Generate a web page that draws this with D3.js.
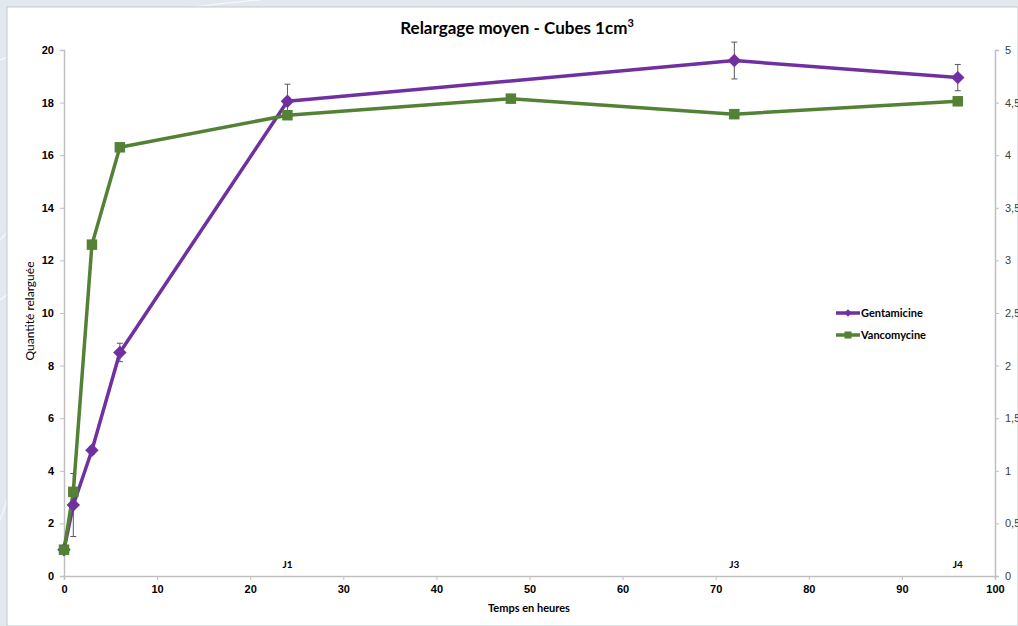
<html>
<head>
  <style>
    body { margin: 0; background: #e3e8ef; font-family: Lato, "Open Sans", sans-serif; }
    svg { display: block; }
    .tick text { font-size: 11px; font-weight: bold; fill: #000; }
    .right .tick text { font-weight: normal; fill: #404040; }
    .domain, .tick line { stroke: #bfbfbf; }
  </style>
</head>
<body>
  <div id="chart"></div>
  <script src="https://d3js.org/d3.v7.min.js"></script>
  <script>
    // data
    var gentHours = [0, 1, 3, 6, 24, 72, 96];
    var gentValues = [1.0, 2.7, 4.78, 8.5, 18.05, 19.6, 18.95];
    var gentErrors = [0.05, 1.2, 0.15, 0.35, 0.65, 0.7, 0.5];

    var vancoHours = [0, 1, 3, 6, 24, 48, 72, 96];
    var vancoValues = [1.0, 3.2, 12.6, 16.3, 17.52, 18.15, 17.56, 18.05];

    var dayLabels = [{ h: 24, t: "J1" }, { h: 72, t: "J3" }, { h: 96, t: "J4" }];
    var rightTicks = [0, 0.5, 1, 1.5, 2, 2.5, 3, 3.5, 4, 4.5, 5];

    var width = 1018, height = 626;
    var plotLeft = 64, plotRight = 995, plotTop = 50, plotBottom = 576;

    var svg = d3.select("#chart").append("svg")
        .attr("width", width)
        .attr("height", height);

    // faint background curves
    var bg = svg.append("g").attr("fill", "none").attr("stroke", "#f4f6f9").attr("stroke-width", 1.5);
    bg.append("path").attr("d", "M0,60 Q120,10 260,0");
    bg.append("path").attr("d", "M0,240 Q40,200 10,150");
    bg.append("path").attr("d", "M0,300 Q30,280 8,260");
    bg.append("path").attr("d", "M0,520 Q20,470 8,440");

    svg.append("rect")
        .attr("x", 7).attr("y", 7)
        .attr("width", width - 7).attr("height", height - 7)
        .attr("fill", "#fff")
        .attr("stroke", "#c3c8ce");

    var x = d3.scaleLinear().domain([0, 100]).range([plotLeft, plotRight]);
    var y = d3.scaleLinear().domain([0, 20]).range([plotBottom, plotTop]);
    var y2 = d3.scaleLinear().domain([0, 5]).range([plotBottom, plotTop]);

    svg.append("g")
        .attr("transform", "translate(0," + plotBottom + ")")
        .call(d3.axisBottom(x).ticks(10).tickSizeOuter(0).tickSize(4).tickPadding(5));

    svg.append("g")
        .attr("transform", "translate(" + plotLeft + ",0)")
        .call(d3.axisLeft(y).ticks(10).tickSizeOuter(0).tickSize(4).tickPadding(6));

    svg.append("g")
        .attr("class", "right")
        .attr("transform", "translate(" + plotRight + ",0)")
        .call(d3.axisRight(y2).tickValues(rightTicks).tickSizeOuter(0).tickSize(4)
          .tickPadding(6).tickFormat(function (d) { return String(d).replace(".", ","); }));

    svg.selectAll(".domain").attr("stroke-width", 1.5);

    // titles
    var title = svg.append("text")
        .attr("x", 517).attr("y", 34)
        .attr("text-anchor", "middle")
        .attr("font-size", 17).attr("font-weight", "bold")
        .text("Relargage moyen - Cubes 1cm");
    title.append("tspan").attr("font-size", 11).attr("dy", -7).text("3");

    svg.append("text")
        .attr("x", 529).attr("y", 612)
        .attr("text-anchor", "middle")
        .attr("font-size", 11).attr("font-weight", "bold")
        .text("Temps en heures");

    svg.append("text")
        .attr("transform", "translate(34,311) rotate(-90)")
        .attr("text-anchor", "middle")
        .attr("font-size", 12)
        .text("Quantité relarguée");

    // day labels
    svg.append("g").selectAll("text")
        .data(dayLabels)
        .enter().append("text")
        .attr("x", function (d) { return x(d.h); })
        .attr("y", plotBottom - 8)
        .attr("text-anchor", "middle")
        .attr("font-size", 10).attr("font-weight", "bold")
        .text(function (d) { return d.t; });

    var gent = gentHours.map(function (h, i) { return { h: h, v: gentValues[i], e: gentErrors[i] }; });
    var vanco = vancoHours.map(function (h, i) { return { h: h, v: vancoValues[i] }; });

    var line = d3.line()
        .x(function (d) { return x(d.h); })
        .y(function (d) { return y(d.v); });

    var purple = "#7030a0", green = "#538135";

    // error bars
    var eb = svg.append("g").attr("stroke", "#595959").attr("stroke-width", 1);
    gent.forEach(function (d) {
      var cx = x(d.h), y0 = y(d.v - d.e), y1 = y(d.v + d.e);
      eb.append("line").attr("x1", cx).attr("x2", cx).attr("y1", y0).attr("y2", y1);
      eb.append("line").attr("x1", cx - 3).attr("x2", cx + 3).attr("y1", y0).attr("y2", y0);
      eb.append("line").attr("x1", cx - 3).attr("x2", cx + 3).attr("y1", y1).attr("y2", y1);
    });

    svg.append("path")
        .datum(gent)
        .attr("fill", "none")
        .attr("stroke", purple)
        .attr("stroke-width", 3.5)
        .attr("stroke-linejoin", "round")
        .attr("d", line);

    svg.append("path")
        .datum(vanco)
        .attr("fill", "none")
        .attr("stroke", green)
        .attr("stroke-width", 3.5)
        .attr("stroke-linejoin", "round")
        .attr("d", line);

    var diamond = d3.symbol().type(d3.symbolSquare).size(90);
    var square = d3.symbol().type(d3.symbolSquare).size(110);

    svg.append("g").selectAll("path")
        .data(gent)
        .enter().append("path")
        .attr("d", diamond)
        .attr("transform", function (d) { return "translate(" + x(d.h) + "," + y(d.v) + ") rotate(45)"; })
        .attr("fill", purple);

    svg.append("g").selectAll("path")
        .data(vanco)
        .enter().append("path")
        .attr("d", square)
        .attr("transform", function (d) { return "translate(" + x(d.h) + "," + y(d.v) + ")"; })
        .attr("fill", green);

    // legend
    var legend = svg.append("g").attr("transform", "translate(836,313)");
    var items = [{ n: "Gentamicine", c: purple, s: "d" }, { n: "Vancomycine", c: green, s: "s" }];
    items.forEach(function (it, i) {
      var g = legend.append("g").attr("transform", "translate(0," + (i * 22) + ")");
      g.append("line").attr("x1", 0).attr("x2", 24).attr("stroke", it.c).attr("stroke-width", 3.5);
      if (it.s === "d") {
        g.append("path").attr("d", d3.symbol().type(d3.symbolSquare).size(30))
          .attr("transform", "translate(12,0) rotate(45)").attr("fill", it.c);
      } else {
        g.append("path").attr("d", d3.symbol().type(d3.symbolSquare).size(50))
          .attr("transform", "translate(12,0)").attr("fill", it.c);
      }
      g.append("text").attr("x", 25).attr("y", 4)
        .attr("font-size", 11).attr("font-weight", "bold")
        .text(it.n);
    });
  </script>
</body>
</html>
